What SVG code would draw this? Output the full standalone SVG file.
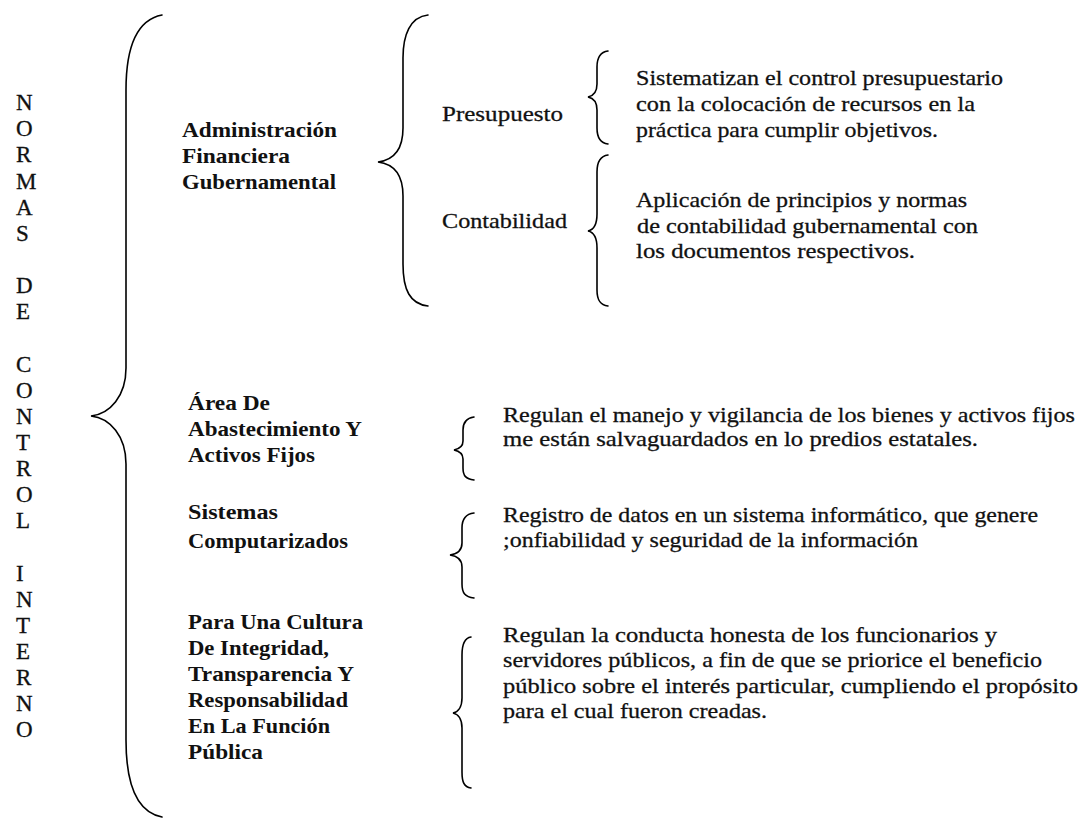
<svg xmlns="http://www.w3.org/2000/svg" width="1079" height="819" viewBox="0 0 1079 819">
<style>
  .v { font-family: "Liberation Serif", "Times New Roman", serif; font-size: 23px; fill: #111; stroke: #111; stroke-width: 0.3; }
  .b { font-family: "Liberation Serif", "Times New Roman", serif; font-size: 22px; font-weight: bold; fill: #111; }
  .t { font-family: "Liberation Serif", "Times New Roman", serif; font-size: 22px; fill: #111; stroke: #111; stroke-width: 0.3; }
  .br { fill: none; stroke: #000; stroke-width: 1.6; stroke-linecap: round; }
</style>
<rect width="1079" height="819" fill="#fff"/>

<g id="title">
  <text class="v" x="16" y="110">N</text>
  <text class="v" x="16" y="136">O</text>
  <text class="v" x="16" y="162">R</text>
  <text class="v" x="16" y="188.5">M</text>
  <text class="v" x="16" y="215">A</text>
  <text class="v" x="16" y="241">S</text>
  <text class="v" x="16" y="293">D</text>
  <text class="v" x="16" y="319">E</text>
  <text class="v" x="16" y="371.5">C</text>
  <text class="v" x="16" y="397.5">O</text>
  <text class="v" x="16" y="423.5">N</text>
  <text class="v" x="16" y="450">T</text>
  <text class="v" x="16" y="476">R</text>
  <text class="v" x="16" y="502">O</text>
  <text class="v" x="16" y="528">L</text>
  <text class="v" x="16" y="580.5">I</text>
  <text class="v" x="16" y="606.5">N</text>
  <text class="v" x="16" y="632.5">T</text>
  <text class="v" x="16" y="658.5">E</text>
  <text class="v" x="16" y="684.5">R</text>
  <text class="v" x="16" y="711">N</text>
  <text class="v" x="16" y="737">O</text>
</g>

<g id="connectors">
  <path class="br" d="M162,15 C136,20 126,50 126,90 L126,368 C126,396 110,414 91,416 C110,418 126,436 126,464 L126,740 C126,782 136,812 162,817"/>
  <path class="br" d="M428,15 C410,17 403,35 403,58 L403,128 C403,150 394,160 378,162 C394,164 403,174 403,196 L403,264 C403,290 410,304 428,306"/>
  <path class="br" d="M608,51 C600,52 597,58 597,67 L597,84 C597,92 593,96 588,97 C593,98 597,102 597,110 L597,128 C597,137 600,143 608,144"/>
  <path class="br" d="M608,155 C600,156 597,162 597,172 L597,214 C597,225 593,230 588,231 C593,232 597,237 597,248 L597,290 C597,300 600,305 608,306"/>
  <path class="br" d="M474,417 C466,418 463,423 463,430 L463,441 C463,447 459,449 454,450 C459,451 463,453 463,459 L463,468 C463,476 466,479 474,480"/>
  <path class="br" d="M474,513 C465,514 462,520 462,528 L462,543 C462,551 457,554 450,555 C457,556 462,559 462,567 L462,584 C462,593 465,597 474,598"/>
  <path class="br" d="M471,637 C464,638 462,645 462,655 L462,698 C462,707 458,712 453,713 C458,714 462,719 462,728 L462,772 C462,782 464,787 471,788"/>
</g>

<g id="admin-financiera">
  <text class="b" x="182" y="137" textLength="155" lengthAdjust="spacingAndGlyphs">Administración</text>
  <text class="b" x="182" y="163" textLength="108" lengthAdjust="spacingAndGlyphs">Financiera</text>
  <text class="b" x="182" y="189" textLength="154" lengthAdjust="spacingAndGlyphs">Gubernamental</text>
</g>

<g id="presupuesto">
  <text class="t" x="442" y="121" textLength="121" lengthAdjust="spacingAndGlyphs">Presupuesto</text>
</g>

<g id="presupuesto-desc">
  <text class="t" x="636" y="85" textLength="367" lengthAdjust="spacingAndGlyphs">Sistematizan el control presupuestario</text>
  <text class="t" x="636" y="111" textLength="339" lengthAdjust="spacingAndGlyphs">con la colocación de recursos en la</text>
  <text class="t" x="636" y="137" textLength="302" lengthAdjust="spacingAndGlyphs">práctica para cumplir objetivos.</text>
</g>

<g id="contabilidad">
  <text class="t" x="442" y="228" textLength="125" lengthAdjust="spacingAndGlyphs">Contabilidad</text>
</g>

<g id="contabilidad-desc">
  <text class="t" x="636" y="207" textLength="331" lengthAdjust="spacingAndGlyphs">Aplicación de principios y normas</text>
  <text class="t" x="637" y="233" textLength="341" lengthAdjust="spacingAndGlyphs">de contabilidad gubernamental con</text>
  <text class="t" x="636" y="258" textLength="279" lengthAdjust="spacingAndGlyphs">los documentos respectivos.</text>
</g>

<g id="area-abastecimiento">
  <text class="b" x="188" y="410" textLength="82" lengthAdjust="spacingAndGlyphs">Área De</text>
  <text class="b" x="188" y="436" textLength="174" lengthAdjust="spacingAndGlyphs">Abastecimiento Y</text>
  <text class="b" x="188" y="462" textLength="127" lengthAdjust="spacingAndGlyphs">Activos Fijos</text>
</g>

<g id="area-desc">
  <text class="t" x="503" y="422" textLength="572" lengthAdjust="spacingAndGlyphs">Regulan el manejo y vigilancia de los bienes y activos fijos</text>
  <text class="t" x="503" y="446" textLength="475" lengthAdjust="spacingAndGlyphs">me están salvaguardados en lo predios estatales.</text>
</g>

<g id="sistemas">
  <text class="b" x="188" y="519" textLength="90" lengthAdjust="spacingAndGlyphs">Sistemas</text>
  <text class="b" x="188" y="548" textLength="160" lengthAdjust="spacingAndGlyphs">Computarizados</text>
</g>

<g id="sistemas-desc">
  <text class="t" x="503" y="522" textLength="535" lengthAdjust="spacingAndGlyphs">Registro de datos en un sistema informático, que genere</text>
  <text class="t" x="503" y="547" textLength="415" lengthAdjust="spacingAndGlyphs">;onfiabilidad y seguridad de la información</text>
</g>

<g id="cultura-integridad">
  <text class="b" x="188" y="629" textLength="175" lengthAdjust="spacingAndGlyphs">Para Una Cultura</text>
  <text class="b" x="188" y="655" textLength="141" lengthAdjust="spacingAndGlyphs">De Integridad,</text>
  <text class="b" x="188" y="681" textLength="166" lengthAdjust="spacingAndGlyphs">Transparencia Y</text>
  <text class="b" x="188" y="707" textLength="160" lengthAdjust="spacingAndGlyphs">Responsabilidad</text>
  <text class="b" x="188" y="733" textLength="142" lengthAdjust="spacingAndGlyphs">En La Función</text>
  <text class="b" x="188" y="759" textLength="75" lengthAdjust="spacingAndGlyphs">Pública</text>
</g>

<g id="cultura-desc">
  <text class="t" x="503" y="642" textLength="494" lengthAdjust="spacingAndGlyphs">Regulan la conducta honesta de los funcionarios y</text>
  <text class="t" x="503" y="667" textLength="539" lengthAdjust="spacingAndGlyphs">servidores públicos, a fin de que se priorice el beneficio</text>
  <text class="t" x="503" y="693" textLength="575" lengthAdjust="spacingAndGlyphs">público sobre el interés particular, cumpliendo el propósito</text>
  <text class="t" x="503" y="718" textLength="264" lengthAdjust="spacingAndGlyphs">para el cual fueron creadas.</text>
</g>
</svg>
